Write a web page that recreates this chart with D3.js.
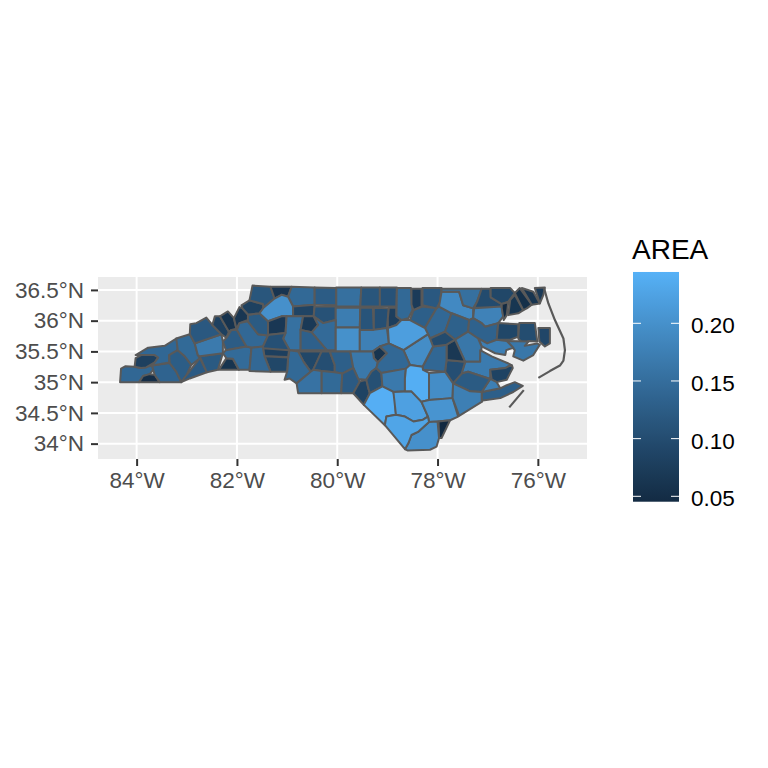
<!DOCTYPE html>
<html>
<head>
<meta charset="utf-8">
<script src="https://cdn.jsdelivr.net/npm/d3@7"></script>
<style>
  html, body { margin: 0; background: #fff; }
  text { font-family: "Liberation Sans", Arial, sans-serif; }
</style>
</head>
<body>
<div id="visualization"></div>
<script>
// AREA per county
const countyAreas = {
  Cherokee: 0.141, Clay: 0.051, Macon: 0.135, Graham: 0.080, Swain: 0.141, Jackson: 0.125,
  Haywood: 0.144, Transylvania: 0.121, Henderson: 0.120, Polk: 0.060, Buncombe: 0.168, Madison: 0.118,
  Yancey: 0.080, Mitchell: 0.059, Avery: 0.064, McDowell: 0.124, Rutherford: 0.146, Burke: 0.142,
  Caldwell: 0.122, Watauga: 0.081, Ashe: 0.114, Alleghany: 0.061, Surry: 0.143, Stokes: 0.124,
  Rockingham: 0.153, Caswell: 0.114, Person: 0.109, Wilkes: 0.199, Yadkin: 0.086, Forsyth: 0.108,
  Guilford: 0.172, Alamance: 0.111, Orange: 0.104, Durham: 0.077, Alexander: 0.066, Iredell: 0.155,
  Davie: 0.069, Davidson: 0.145, Rowan: 0.130, Randolph: 0.200, Chatham: 0.177, Lee: 0.060,
  Cabarrus: 0.091, Stanly: 0.102, Montgomery: 0.128, Moore: 0.165, Mecklenburg: 0.143, Union: 0.157,
  Anson: 0.144, Richmond: 0.121, Scotland: 0.085, Hoke: 0.105, Catawba: 0.106, Lincoln: 0.078,
  Gaston: 0.091, Cleveland: 0.142, Granville: 0.143, Vance: 0.072, Warren: 0.118, Franklin: 0.128,
  Nash: 0.142, Halifax: 0.190, Northampton: 0.153, Hertford: 0.097, Gates: 0.091, Bertie: 0.180,
  Edgecombe: 0.131, Martin: 0.133, Chowan: 0.044, Perquimans: 0.063, Pasquotank: 0.053, Camden: 0.062,
  Currituck: 0.070, Washington: 0.091, Tyrrell: 0.100, Dare: 0.090, Hyde: 0.164, Beaufort: 0.175,
  Pitt: 0.163, Craven: 0.170, Pamlico: 0.085, Carteret: 0.128, Jones: 0.122, Lenoir: 0.103,
  Greene: 0.067, Wayne: 0.141, Wilson: 0.097, Johnston: 0.195, Wake: 0.219, Harnett: 0.142,
  Cumberland: 0.167, Robeson: 0.241, Bladen: 0.222, Sampson: 0.240, Duplin: 0.195, Pender: 0.205,
  Onslow: 0.175, NewHanover: 0.042, Brunswick: 0.199, Columbus: 0.228, CarteretWest: 0.175
};

// County outlines as [lon, lat]
const countyRings = {
  Cherokee: [[-84.33,35.00],[-84.31,35.22],[-84.22,35.26],[-84.04,35.25],[-83.91,35.23],[-83.69,35.27],[-83.67,35.20],[-83.74,35.13],[-83.87,35.10],[-83.95,35.00]],
  Clay: [[-83.95,35.00],[-83.87,35.10],[-83.74,35.13],[-83.64,35.12],[-83.54,35.00]],
  Macon: [[-83.69,35.27],[-83.34,35.31],[-83.21,35.17],[-83.11,35.00],[-83.54,35.00],[-83.64,35.12],[-83.67,35.20]],
  Graham: [[-84.04,35.25],[-84.02,35.39],[-83.91,35.44],[-83.64,35.44],[-83.57,35.40],[-83.64,35.32],[-83.81,35.24],[-83.91,35.23]],
  Swain: [[-84.02,35.44],[-83.77,35.56],[-83.44,35.59],[-83.21,35.71],[-83.18,35.63],[-83.18,35.52],[-83.35,35.44],[-83.35,35.32],[-83.69,35.27],[-83.64,35.32],[-83.57,35.40],[-83.64,35.44],[-83.91,35.44]],
  Jackson: [[-83.35,35.44],[-83.18,35.52],[-83.04,35.42],[-82.91,35.28],[-83.00,35.12],[-83.11,35.00],[-83.21,35.17],[-83.34,35.31]],
  Haywood: [[-83.21,35.71],[-82.94,35.78],[-82.84,35.63],[-82.78,35.44],[-82.74,35.39],[-82.91,35.28],[-83.04,35.42],[-83.18,35.52]],
  Transylvania: [[-83.11,35.00],[-83.00,35.12],[-82.74,35.39],[-82.60,35.16],[-82.94,35.06]],
  Henderson: [[-82.74,35.42],[-82.28,35.47],[-82.38,35.20],[-82.60,35.16]],
  Polk: [[-82.36,35.20],[-82.21,35.39],[-82.08,35.38],[-81.96,35.20]],
  Buncombe: [[-82.84,35.63],[-82.31,35.78],[-82.28,35.66],[-82.28,35.47],[-82.74,35.42],[-82.78,35.44]],
  Madison: [[-82.94,35.78],[-82.93,35.94],[-82.81,35.96],[-82.61,36.05],[-82.49,35.93],[-82.31,35.78],[-82.84,35.63]],
  Yancey: [[-82.49,35.93],[-82.44,36.07],[-82.34,36.07],[-82.16,35.82],[-82.21,35.72],[-82.31,35.78]],
  Mitchell: [[-82.34,36.07],[-82.18,36.15],[-82.06,36.04],[-82.01,35.87],[-82.11,35.85],[-82.16,35.82]],
  Avery: [[-82.06,36.04],[-81.95,36.22],[-81.89,36.20],[-81.78,36.10],[-81.78,36.01],[-81.95,35.96],[-82.01,35.87]],
  McDowell: [[-82.21,35.72],[-82.11,35.85],[-82.00,35.85],[-81.81,35.58],[-82.22,35.52],[-82.28,35.66]],
  Rutherford: [[-82.22,35.52],[-81.81,35.58],[-81.71,35.56],[-81.75,35.20],[-81.96,35.20],[-82.08,35.38],[-82.21,35.39],[-82.28,35.47]],
  Burke: [[-82.00,35.85],[-81.95,35.96],[-81.78,35.99],[-81.58,35.78],[-81.38,35.76],[-81.48,35.58],[-81.69,35.56],[-81.81,35.58]],
  Caldwell: [[-81.78,36.01],[-81.78,36.09],[-81.55,36.12],[-81.38,35.99],[-81.38,35.76],[-81.58,35.78],[-81.78,35.99]],
  Watauga: [[-81.91,36.25],[-81.75,36.33],[-81.48,36.27],[-81.47,36.21],[-81.55,36.12],[-81.78,36.10],[-81.89,36.20]],
  Ashe: [[-81.69,36.57],[-81.33,36.55],[-81.25,36.36],[-81.47,36.21],[-81.48,36.27],[-81.75,36.33]],
  Alleghany: [[-81.33,36.55],[-80.91,36.55],[-80.98,36.39],[-81.11,36.42],[-81.25,36.36]],
  Surry: [[-80.91,36.55],[-80.45,36.54],[-80.45,36.26],[-80.88,36.23],[-80.98,36.39]],
  Stokes: [[-80.45,36.54],[-80.02,36.53],[-80.02,36.25],[-80.45,36.26]],
  Rockingham: [[-80.02,36.54],[-79.52,36.54],[-79.54,36.23],[-80.02,36.23]],
  Caswell: [[-79.52,36.54],[-79.15,36.54],[-79.15,36.23],[-79.54,36.23]],
  Person: [[-79.15,36.54],[-78.81,36.54],[-78.82,36.23],[-79.15,36.23]],
  Wilkes: [[-81.47,36.21],[-81.25,36.36],[-81.11,36.42],[-80.98,36.39],[-80.88,36.23],[-80.88,36.07],[-81.11,36.07],[-81.31,36.01],[-81.38,35.99],[-81.55,36.12]],
  Yadkin: [[-80.88,36.23],[-80.45,36.26],[-80.47,36.07],[-80.68,36.07],[-80.88,36.07]],
  Forsyth: [[-80.45,36.23],[-80.03,36.23],[-80.03,36.01],[-80.28,35.96],[-80.47,36.07]],
  Guilford: [[-80.03,36.21],[-79.54,36.21],[-79.55,35.89],[-80.03,35.89]],
  Alamance: [[-79.54,36.21],[-79.29,36.21],[-79.27,35.85],[-79.55,35.85]],
  Orange: [[-79.27,36.21],[-78.97,36.20],[-79.01,35.88],[-79.27,35.85]],
  Durham: [[-78.97,36.21],[-78.82,36.21],[-78.82,36.07],[-78.72,36.01],[-78.82,35.93],[-78.99,35.88],[-78.99,36.04]],
  Alexander: [[-81.38,35.99],[-81.31,36.01],[-81.11,36.07],[-81.01,36.07],[-81.03,35.80],[-81.35,35.77],[-81.38,35.76]],
  Iredell: [[-81.01,36.07],[-80.68,36.07],[-80.73,35.85],[-80.73,35.52],[-80.95,35.52],[-81.08,35.71],[-81.03,35.80]],
  Davie: [[-80.68,36.07],[-80.47,36.07],[-80.38,35.93],[-80.51,35.81],[-80.73,35.85]],
  Davidson: [[-80.47,36.07],[-80.28,35.96],[-80.03,36.01],[-80.03,35.52],[-80.21,35.52],[-80.51,35.81],[-80.38,35.93]],
  Rowan: [[-80.73,35.85],[-80.51,35.81],[-80.21,35.52],[-80.73,35.52]],
  Randolph: [[-80.03,35.89],[-79.55,35.89],[-79.55,35.50],[-80.03,35.50]],
  Chatham: [[-79.55,35.85],[-79.27,35.85],[-79.01,35.88],[-78.97,35.63],[-79.15,35.58],[-79.29,35.50],[-79.55,35.50]],
  Lee: [[-79.29,35.50],[-79.15,35.58],[-79.01,35.47],[-79.19,35.32],[-79.27,35.39]],
  Cabarrus: [[-80.78,35.50],[-80.31,35.50],[-80.48,35.20],[-80.53,35.17],[-80.67,35.33]],
  Stanly: [[-80.31,35.50],[-80.15,35.50],[-80.05,35.28],[-80.05,35.16],[-80.31,35.18],[-80.48,35.20]],
  Montgomery: [[-80.15,35.50],[-79.74,35.50],[-79.68,35.23],[-79.90,35.14],[-80.05,35.16],[-80.05,35.28]],
  Moore: [[-79.74,35.50],[-79.29,35.50],[-79.27,35.39],[-79.19,35.32],[-79.22,35.23],[-79.32,35.17],[-79.42,35.04],[-79.58,35.05],[-79.68,35.23]],
  Mecklenburg: [[-80.95,35.52],[-80.78,35.50],[-80.67,35.33],[-80.53,35.17],[-80.81,34.98],[-80.95,35.06],[-81.05,35.04],[-81.00,35.17],[-80.98,35.39]],
  Union: [[-80.81,34.98],[-80.53,35.17],[-80.48,35.20],[-80.31,35.18],[-80.31,34.82],[-80.78,34.82]],
  Anson: [[-80.31,35.18],[-80.05,35.16],[-79.90,35.14],[-79.92,34.82],[-80.31,34.82]],
  Richmond: [[-79.90,35.14],[-79.68,35.23],[-79.58,35.05],[-79.55,35.01],[-79.68,34.82],[-79.92,34.82]],
  Scotland: [[-79.55,35.01],[-79.42,35.04],[-79.38,34.90],[-79.35,34.82],[-79.47,34.63],[-79.68,34.82]],
  Hoke: [[-79.42,35.04],[-79.32,35.17],[-79.22,35.23],[-79.12,35.15],[-79.10,34.93],[-79.35,34.82],[-79.38,34.90]],
  Catawba: [[-81.48,35.58],[-81.38,35.76],[-81.35,35.77],[-81.03,35.80],[-81.08,35.71],[-80.95,35.52],[-81.48,35.52]],
  Lincoln: [[-81.48,35.55],[-80.96,35.52],[-80.98,35.41],[-81.45,35.42]],
  Gaston: [[-81.45,35.42],[-80.98,35.40],[-81.00,35.17],[-81.33,35.17]],
  Cleveland: [[-81.71,35.56],[-81.48,35.58],[-81.48,35.55],[-81.45,35.42],[-81.33,35.17],[-81.75,35.18]],
  Granville: [[-78.81,36.53],[-78.53,36.53],[-78.50,36.17],[-78.58,36.04],[-78.72,36.01],[-78.82,36.07]],
  Vance: [[-78.52,36.52],[-78.32,36.52],[-78.32,36.23],[-78.48,36.17],[-78.52,36.26]],
  Warren: [[-78.30,36.53],[-77.92,36.53],[-77.95,36.31],[-78.02,36.20],[-78.30,36.25]],
  Franklin: [[-78.48,36.17],[-78.30,36.23],[-78.02,36.20],[-78.25,35.88],[-78.55,36.01]],
  Nash: [[-78.02,36.20],[-77.97,36.23],[-77.72,36.12],[-77.85,35.82],[-78.15,35.71],[-78.25,35.88]],
  Halifax: [[-77.92,36.47],[-77.57,36.47],[-77.49,36.25],[-77.29,36.20],[-77.29,36.04],[-77.37,36.01],[-77.72,36.12],[-77.97,36.23]],
  Northampton: [[-77.92,36.52],[-77.12,36.52],[-77.21,36.31],[-77.29,36.20],[-77.49,36.25],[-77.57,36.47],[-77.92,36.47]],
  Hertford: [[-77.12,36.52],[-76.95,36.52],[-76.94,36.38],[-76.72,36.27],[-76.75,36.21],[-77.27,36.21],[-77.21,36.31]],
  Gates: [[-76.94,36.53],[-76.55,36.53],[-76.46,36.45],[-76.59,36.31],[-76.72,36.27],[-76.94,36.38]],
  Bertie: [[-77.27,36.20],[-76.72,36.23],[-76.69,36.07],[-76.79,35.96],[-77.05,35.90],[-77.12,35.96],[-77.29,36.04]],
  Edgecombe: [[-77.72,36.12],[-77.37,36.01],[-77.39,35.82],[-77.65,35.69],[-77.85,35.82]],
  Martin: [[-77.37,36.01],[-77.29,36.04],[-77.12,35.96],[-77.05,35.90],[-76.79,35.96],[-76.82,35.69],[-77.01,35.63],[-77.19,35.71],[-77.39,35.82]],
  Chowan: [[-76.72,36.27],[-76.59,36.30],[-76.62,36.09],[-76.68,36.01],[-76.72,36.20]],
  Perquimans: [[-76.55,36.34],[-76.46,36.42],[-76.29,36.17],[-76.39,36.12],[-76.59,36.09]],
  Pasquotank: [[-76.46,36.45],[-76.36,36.53],[-76.12,36.26],[-76.22,36.20],[-76.29,36.17]],
  Camden: [[-76.32,36.53],[-76.09,36.47],[-75.96,36.28],[-76.12,36.26]],
  Currituck: [[-76.06,36.53],[-75.86,36.54],[-75.89,36.42],[-75.96,36.28]],
  Washington: [[-76.79,35.96],[-76.39,35.94],[-76.39,35.74],[-76.55,35.69],[-76.82,35.69]],
  Tyrrell: [[-76.37,35.96],[-76.06,35.96],[-76.01,35.66],[-76.19,35.67],[-76.26,35.59],[-76.39,35.71]],
  Dare: [[-75.99,35.88],[-75.76,35.88],[-75.76,35.63],[-75.86,35.58],[-75.97,35.66]],
  Hyde: [[-76.62,35.67],[-76.19,35.66],[-76.26,35.59],[-76.02,35.63],[-75.96,35.61],[-76.09,35.44],[-76.29,35.35],[-76.49,35.42],[-76.46,35.52]],
  Beaufort: [[-77.19,35.71],[-77.01,35.63],[-76.82,35.69],[-76.62,35.67],[-76.49,35.56],[-76.63,35.52],[-76.65,35.44],[-76.85,35.47],[-77.12,35.58]],
  Pitt: [[-77.65,35.69],[-77.39,35.82],[-77.19,35.71],[-77.12,35.58],[-77.15,35.33],[-77.45,35.33]],
  Craven: [[-77.45,35.33],[-77.15,35.33],[-77.15,35.52],[-76.92,35.42],[-76.55,35.29],[-76.62,35.23],[-76.95,35.20],[-76.95,35.05],[-77.39,35.17],[-77.52,35.14]],
  Pamlico: [[-76.95,35.20],[-76.65,35.23],[-76.52,35.28],[-76.50,35.23],[-76.55,35.15],[-76.62,35.04],[-76.82,35.00],[-76.92,35.04]],
  Carteret: [[-77.12,34.84],[-76.75,34.90],[-76.62,34.95],[-76.46,35.00],[-76.30,34.94],[-76.49,34.84],[-76.75,34.74],[-77.10,34.70],[-77.12,34.68]],
  CarteretWest: [[-76.95,35.05],[-76.92,35.04],[-76.82,35.00],[-76.75,34.90],[-77.12,34.84]],
  Jones: [[-77.69,34.98],[-77.52,35.14],[-77.39,35.17],[-76.95,35.05],[-77.12,34.84],[-77.35,34.85]],
  Lenoir: [[-77.82,35.36],[-77.45,35.33],[-77.52,35.14],[-77.69,34.98],[-77.85,35.17]],
  Greene: [[-77.82,35.61],[-77.65,35.69],[-77.45,35.33],[-77.82,35.36]],
  Wayne: [[-78.09,35.58],[-77.82,35.61],[-77.82,35.36],[-77.85,35.17],[-78.29,35.20],[-78.30,35.25],[-78.12,35.52]],
  Wilson: [[-78.15,35.71],[-77.85,35.82],[-77.65,35.69],[-77.82,35.61],[-78.09,35.58]],
  Johnston: [[-78.68,35.52],[-78.19,35.78],[-78.15,35.71],[-78.09,35.58],[-78.30,35.25],[-78.55,35.28]],
  Wake: [[-78.72,36.01],[-78.55,36.01],[-78.25,35.88],[-78.19,35.78],[-78.68,35.52],[-78.97,35.63],[-78.99,35.88],[-78.82,35.93]],
  Harnett: [[-79.19,35.32],[-79.01,35.47],[-79.15,35.58],[-78.97,35.63],[-78.68,35.52],[-78.55,35.28],[-78.63,35.22],[-79.12,35.15],[-79.22,35.23]],
  Cumberland: [[-79.12,35.15],[-78.63,35.22],[-78.65,35.06],[-78.65,34.85],[-78.88,34.84],[-79.10,34.93]],
  Robeson: [[-79.47,34.63],[-79.35,34.82],[-79.10,34.93],[-78.88,34.84],[-78.85,34.74],[-78.83,34.47],[-79.02,34.44],[-79.05,34.30]],
  Bladen: [[-78.88,34.84],[-78.52,34.85],[-78.32,34.68],[-78.19,34.44],[-78.29,34.39],[-78.48,34.36],[-78.65,34.44],[-78.83,34.47]],
  Sampson: [[-78.65,35.06],[-78.63,35.22],[-78.55,35.28],[-78.30,35.25],[-78.29,35.20],[-78.17,35.15],[-78.15,35.01],[-78.17,34.71],[-78.32,34.68],[-78.52,34.85],[-78.65,34.85]],
  Duplin: [[-78.17,35.15],[-77.85,35.17],[-77.69,34.98],[-77.70,34.74],[-78.17,34.71]],
  Pender: [[-78.17,34.71],[-77.70,34.74],[-77.59,34.44],[-77.75,34.38],[-78.00,34.36],[-78.17,34.35],[-78.19,34.44],[-78.32,34.68]],
  Onslow: [[-77.69,34.98],[-77.35,34.85],[-77.12,34.84],[-77.12,34.68],[-77.57,34.45],[-77.70,34.74]],
  NewHanover: [[-77.98,34.36],[-77.75,34.38],[-77.92,34.09],[-77.97,34.09]],
  Brunswick: [[-78.65,33.91],[-78.58,34.01],[-78.52,34.14],[-78.39,34.19],[-78.17,34.35],[-78.00,34.36],[-77.97,34.09],[-78.02,33.95],[-78.15,33.90],[-78.60,33.89]],
  Columbus: [[-79.05,34.30],[-79.02,34.44],[-78.83,34.47],[-78.65,34.44],[-78.48,34.36],[-78.29,34.39],[-78.19,34.44],[-78.17,34.35],[-78.39,34.19],[-78.52,34.14],[-78.58,34.01],[-78.65,33.91]]
};

// Barrier islands, only thin slivers
const outerBanks = [[-75.88,36.54],[-75.79,36.28],[-75.66,36.01],[-75.49,35.71],[-75.46,35.52],[-75.49,35.35],[-75.56,35.27],[-75.76,35.18],[-75.99,35.07]];
const coreBanks = [[-76.57,34.59],[-76.28,34.87]];

const lonTicks = [-84, -82, -80, -78, -76];
const latTicks = [34, 34.5, 35, 35.5, 36, 36.5];
const legendTicks = [0.05, 0.10, 0.15, 0.20];
const legendRange = [0.0453, 0.2445];

const panel = { left: 98, right: 587, top: 277, bottom: 459 };

const x = d3.scaleLinear().domain([-84.77, -75.02]).range([panel.left, panel.right]);
const y = d3.scaleLinear().domain([33.75, 36.71]).range([panel.bottom, panel.top]);
const color = d3.scaleLinear().domain(legendRange).range(['#132B43', '#56B1F7']).interpolate(d3.interpolateLab);

const svg = d3.select('#visualization').append('svg')
  .attr('width', 768).attr('height', 768)
  .style('display', 'block');

svg.append('rect')
  .attr('x', panel.left).attr('y', panel.top)
  .attr('width', panel.right - panel.left).attr('height', panel.bottom - panel.top)
  .attr('fill', '#EBEBEB');

// gridlines
svg.selectAll('.vgrid').data(lonTicks).enter().append('line')
  .attr('x1', d => x(d)).attr('x2', d => x(d))
  .attr('y1', panel.top).attr('y2', panel.bottom)
  .attr('stroke', '#fff').attr('stroke-width', 2);
svg.selectAll('.hgrid').data(latTicks).enter().append('line')
  .attr('x1', panel.left).attr('x2', panel.right)
  .attr('y1', d => y(d)).attr('y2', d => y(d))
  .attr('stroke', '#fff').attr('stroke-width', 2);

const ringPath = d3.line().x(d => x(d[0])).y(d => y(d[1]));

const counties = Object.keys(countyRings).map(name => ({
  name, area: countyAreas[name], ring: countyRings[name]
}));

svg.append('g').selectAll('path').data(counties).enter().append('path')
  .attr('d', d => ringPath(d.ring) + 'Z')
  .attr('fill', d => color(d.area))
  .attr('stroke', '#595959')
  .attr('stroke-width', 2)
  .attr('stroke-linejoin', 'round');

svg.append('g').selectAll('path').data([outerBanks, coreBanks]).enter().append('path')
  .attr('d', ringPath)
  .attr('fill', 'none')
  .attr('stroke', '#595959')
  .attr('stroke-width', 2.2)
  .attr('stroke-linejoin', 'round');

// axes
const xAxis = d3.axisBottom(x).tickValues(lonTicks).tickFormat(d => `${-d}°W`).tickSizeOuter(0).tickSize(7).tickPadding(6);
const yAxis = d3.axisLeft(y).tickValues(latTicks).tickFormat(d => `${d}°N`).tickSizeOuter(0).tickSize(7).tickPadding(7);

[svg.append('g').attr('transform', `translate(0,${panel.bottom})`).call(xAxis),
 svg.append('g').attr('transform', `translate(${panel.left},0)`).call(yAxis)].forEach(g => {
  g.select('.domain').remove();
  g.selectAll('line').attr('stroke', '#333333').attr('stroke-width', 2);
  g.selectAll('text').attr('fill', '#4D4D4D').style('font-size', '22.5px')
    .style('font-family', '"Liberation Sans", Arial, sans-serif');
});

// colourbar
const legendX = 633, legendW = 46;
const legendY = d3.scaleLinear().domain([0.05, 0.20]).range([496.3, 323.3]);

const grad = svg.append('defs').append('linearGradient')
  .attr('id', 'areaGradient')
  .attr('x1', 0).attr('x2', 0).attr('y1', 1).attr('y2', 0);
d3.range(0, 21).forEach(i => {
  const v = legendRange[0] + (legendRange[1] - legendRange[0]) * i / 20;
  grad.append('stop').attr('offset', `${i * 5}%`).attr('stop-color', color(v));
});

svg.append('rect')
  .attr('x', legendX).attr('y', legendY(legendRange[1]))
  .attr('width', legendW).attr('height', legendY(legendRange[0]) - legendY(legendRange[1]))
  .attr('fill', 'url(#areaGradient)');

const legendTick = svg.append('g').selectAll('g').data(legendTicks).enter().append('g');
legendTick.append('line')
  .attr('x1', legendX).attr('x2', legendX + 8)
  .attr('y1', d => legendY(d)).attr('y2', d => legendY(d))
  .attr('stroke', '#fff').attr('stroke-width', 1);
legendTick.append('line')
  .attr('x1', legendX + legendW - 8).attr('x2', legendX + legendW)
  .attr('y1', d => legendY(d)).attr('y2', d => legendY(d))
  .attr('stroke', '#fff').attr('stroke-width', 1);
legendTick.append('text')
  .attr('x', legendX + legendW + 12)
  .attr('y', d => legendY(d))
  .attr('dy', '0.45em')
  .attr('font-size', '22.5px')
  .attr('fill', '#000')
  .text(d => d.toFixed(2));

svg.append('text')
  .attr('x', legendX - 1).attr('y', 259)
  .attr('font-size', '28px')
  .attr('fill', '#000')
  .text('AREA');
</script>
</body>
</html>
